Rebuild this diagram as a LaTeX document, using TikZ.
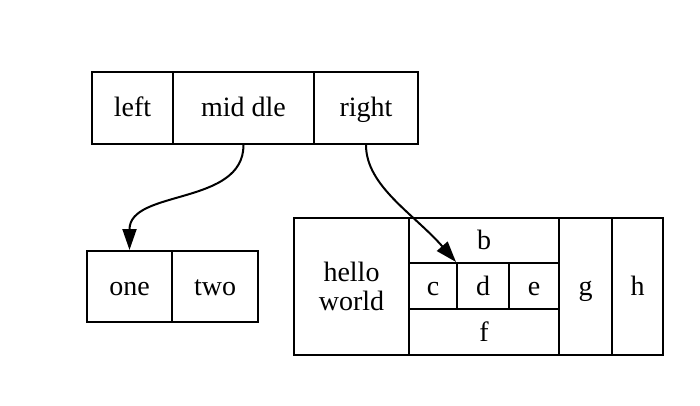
\documentclass[tikz,border=0pt]{standalone}
\usepackage{fontspec}
\setmainfont{Liberation Serif}
\usetikzlibrary{arrows.meta}
\begin{document}
\begin{tikzpicture}[x=0.5pt,y=-0.5pt,
	cell/.style={draw,line width=1pt,inner sep=0pt,align=center,font=\fontsize{14}{14.5}\selectfont,text height=11pt,text depth=2pt},
	edge/.style={line width=1pt,-{Triangle[length=10.5pt,width=7pt]}}]
		\useasboundingbox (0,0) rectangle (700,406);
		\node[cell,minimum width=40.5pt,minimum height=36pt] (l) at (132.5,108) {left};
		\node[cell,minimum width=70.5pt,minimum height=36pt] (m) at (243.5,108) {mid dle};
		\node[cell,minimum width=52pt,minimum height=36pt] (r) at (366,108) {right};
		
		\node[cell,minimum width=42.5pt,minimum height=35.5pt] (one) at (129.5,286.5) {one};
		\node[cell,minimum width=43pt,minimum height=35.5pt] (two) at (215,286.5) {two};
		
		\node[cell,text height=,text depth=,minimum width=57.5pt,minimum height=68.5pt] (hw) at (351.5,286.5) {hello\\world};
		\node[cell,minimum width=75pt,minimum height=22.5pt] (b) at (484,240.5) {b};
		\node[cell,minimum width=24pt,minimum height=23pt] (c) at (433,286) {c};
		\node[cell,minimum width=26pt,minimum height=23pt] (d) at (483,286) {d};
		\node[cell,minimum width=25pt,minimum height=23pt] (e) at (534,286) {e};
		\node[cell,minimum width=75pt,minimum height=23pt] (f) at (484,332) {f};
		\node[cell,minimum width=26.5pt,minimum height=68.5pt] (g) at (585.5,286.5) {g};
		\node[cell,minimum width=25.5pt,minimum height=68.5pt] (h) at (637.5,286.5) {h};
		
		\draw[edge] (m.south) .. controls +(0,61) and +(0,-61) .. (one.north);
		\draw[edge] (r.south) .. controls +(0,41) and +(-42,-48) .. (d.north west);
\end{tikzpicture}
\end{document}
